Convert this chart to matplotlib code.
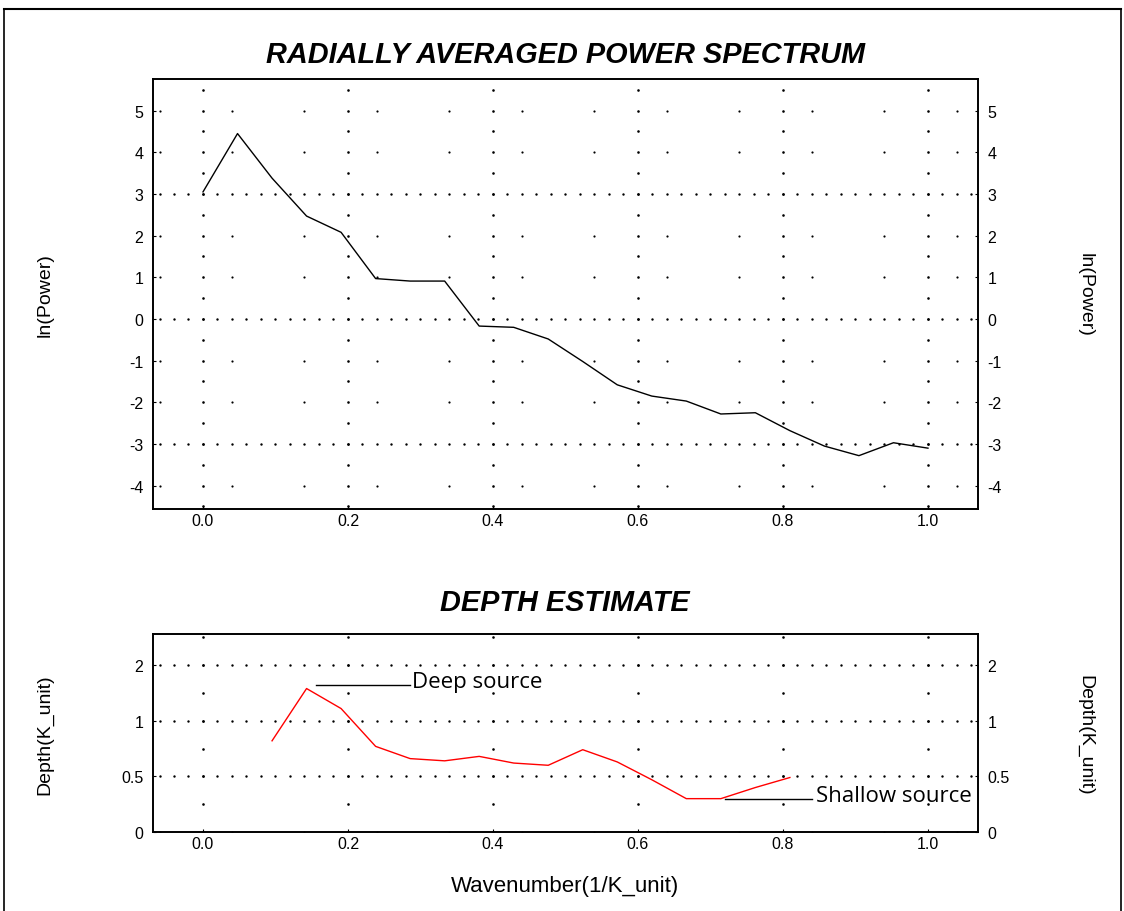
import numpy as np
import matplotlib
matplotlib.use("Agg")
import matplotlib.pyplot as plt
from matplotlib.lines import Line2D

# wavenumber samples (1/21 spacing)
wavenumber = [i / 21 for i in range(22)]
ln_power = [3.05, 4.45, 3.38, 2.47, 2.08, 0.97, 0.91, 0.91, -0.17, -0.20, -0.48,
            -1.02, -1.58, -1.85, -1.97, -2.28, -2.25, -2.68, -3.05, -3.28, -2.97, -3.10]

depth_k = wavenumber[2:18]
depth = [0.82, 1.29, 1.11, 0.77, 0.66, 0.64, 0.68, 0.62, 0.60, 0.74, 0.63,
         0.47, 0.30, 0.30, 0.40, 0.49]

top_yticks = [-4, -3, -2, -1, 0, 1, 2, 3, 4, 5]
bot_yticks = [0, 0.5, 1, 1.5]
bot_ylabels = ['0', '0.5', '1', '2']
xticks = [0.0, 0.2, 0.4, 0.6, 0.8, 1.0]

plt.rcParams['font.family'] = ['Liberation Sans', 'DejaVu Sans']
plt.rcParams['axes.unicode_minus'] = False

fig = plt.figure(figsize=(11.24, 9.12), dpi=100)

# outer border
fig.add_artist(Line2D([0.004, 0.004], [0, 0.989], color='black', lw=1.2))
fig.add_artist(Line2D([0.004, 0.997], [0.989, 0.989], color='black', lw=1.5))
fig.add_artist(Line2D([0.997, 0.997], [0, 0.989], color='black', lw=1.2))

xlim = (-0.069, 1.069)


def dot_grid(ax, ylo, yhi, dense_rows, sparse_rows, col_step):
    xs_dense = np.arange(-0.06, 1.07, 0.02)
    for y in dense_rows:
        ax.scatter(xs_dense, [y] * len(xs_dense), s=3, c='black', lw=0, zorder=1)
    xs_sparse = np.arange(-0.06, 1.07, 0.1)
    for y in sparse_rows:
        ax.scatter(xs_sparse, [y] * len(xs_sparse), s=2.5, c='black', lw=0, zorder=1)
    ys = np.arange(np.ceil(ylo / col_step) * col_step, yhi, col_step)
    for x in xticks:
        ax.scatter([x] * len(ys), ys, s=3.5, c='black', lw=0, zorder=1)


def style(ax):
    ax.set_xlim(*xlim)
    ax.set_xticks(xticks)
    ax.set_xticklabels(['%.1f' % v for v in xticks])
    ax.tick_params(axis='both', labelsize=11.5, direction='in', length=2,
                   right=True, labelright=True)
    ax.tick_params(axis='x', pad=3)
    ax.tick_params(axis='y', pad=7)
    for s in ax.spines.values():
        s.set_linewidth(1.4)


# top panel
ax1 = fig.add_axes([0.1361, 0.4408, 0.734, 0.4715])
ax1.set_ylim(-4.56, 5.76)
dot_grid(ax1, -4.56, 5.76, [-3, 0, 3], [-4, -2, -1, 1, 2, 4, 5], 0.5)
ax1.plot(wavenumber, ln_power, color='black', lw=1.0, zorder=3)
ax1.set_yticks(top_yticks)
style(ax1)

# bottom panel
ax2 = fig.add_axes([0.1361, 0.0866, 0.734, 0.2171])
ax2.set_ylim(0, 1.78)
dot_grid(ax2, 0, 1.78, [0.5, 1.0, 1.5], [0], 0.25)
ax2.plot(depth_k, depth, color='red', lw=1.0, zorder=3)
ax2.set_yticks(bot_yticks)
ax2.set_yticklabels(bot_ylabels)
style(ax2)

# annotations
ax2.plot([0.156, 0.286], [1.32, 1.32], color='black', lw=1.0)
ax2.text(0.288, 1.35, 'Deep source', family='Open Sans', fontsize=16,
         va='center', ha='left')
ax2.plot([0.72, 0.84], [0.297, 0.297], color='black', lw=1.0)
ax2.text(0.846, 0.33, 'Shallow source', family='Open Sans', fontsize=16,
         va='center', ha='left')

# titles and labels
fig.text(565 / 1124, 1 - 55 / 912, 'RADIALLY AVERAGED POWER SPECTRUM',
         fontsize=20.8, fontweight='bold', fontstyle='italic', ha='center', va='center')
fig.text(565 / 1124, 1 - 603 / 912, 'DEPTH ESTIMATE',
         fontsize=20.8, fontweight='bold', fontstyle='italic', ha='center', va='center')
fig.text(565 / 1124, 1 - 887 / 912, 'Wavenumber(1/K_unit)', fontsize=16,
         ha='center', va='center')
fig.text(45 / 1124, 1 - 295 / 912, 'ln(Power)', fontsize=14, rotation=90,
         ha='center', va='center')
fig.text(1085 / 1124, 1 - 295 / 912, 'ln(Power)', fontsize=14, rotation=270,
         ha='center', va='center')
fig.text(45 / 1124, 1 - 735 / 912, 'Depth(K_unit)', fontsize=14, rotation=90,
         ha='center', va='center')
fig.text(1085 / 1124, 1 - 735 / 912, 'Depth(K_unit)', fontsize=14, rotation=270,
         ha='center', va='center')

fig.savefig('out.png', dpi=100)
